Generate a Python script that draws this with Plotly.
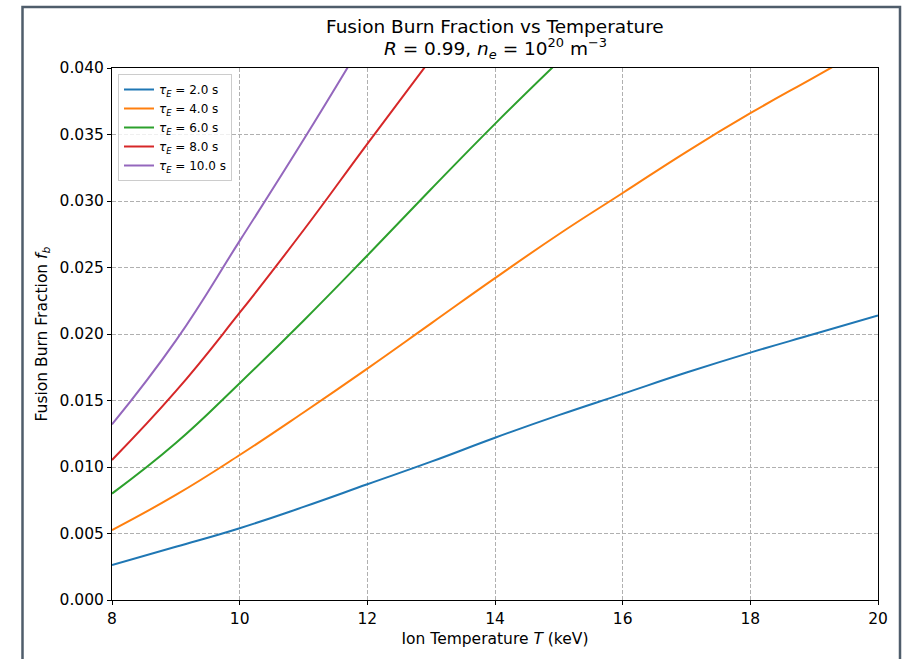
import plotly.graph_objects as go

temperature_keV = [8, 9, 10, 11, 12, 13, 14, 15, 16, 17, 18, 19, 20]
tau_labels = ["2.0", "4.0", "6.0", "8.0", "10.0"]
fb_tau2 = [0.00263, 0.0040, 0.0054, 0.0070, 0.0087, 0.0104, 0.0122, 0.0139, 0.0155, 0.0171, 0.0186, 0.0200, 0.0214]
fb_tau4 = [0.00526, 0.0079, 0.0109, 0.0141, 0.0174, 0.0208, 0.0242, 0.0275, 0.0306, 0.0337, 0.0366, 0.0393, 0.0420]
fb_tau6 = [0.0080, 0.0118, 0.0163, 0.0210, 0.0259, 0.0309, 0.0358, 0.0405]
fb_tau8 = [0.01053, 0.0157, 0.0216, 0.0278, 0.0343, 0.0407]
fb_tau10 = [0.0132, 0.0195, 0.0270, 0.0346, 0.0425]
series = [fb_tau2, fb_tau4, fb_tau6, fb_tau8, fb_tau10]
colors = ["#1f77b4", "#ff7f0e", "#2ca02c", "#d62728", "#9467bd"]
x_ticks = [8, 10, 12, 14, 16, 18, 20]
y_ticks = [0.000, 0.005, 0.010, 0.015, 0.020, 0.025, 0.030, 0.035, 0.040]

W, H = 908, 659
L, R, T, B = 112, 30, 68, 59

fig = go.Figure()
for lab, vals, c in zip(tau_labels, series, colors):
    fig.add_trace(go.Scatter(
        x=temperature_keV[:len(vals)], y=vals, mode="lines",
        line=dict(color=c, width=2, shape="spline", smoothing=1.3),
        name=f"<i>τ</i><sub><i>E</i></sub> = {lab} s",
    ))

pw = W - L - R
ph = H - T - B
def px2paper_x(px):
    return (px - L) / pw
def px2paper_y(py):
    return (H - B - py) / ph

fig.add_shape(type="rect", xref="paper", yref="paper",
              x0=px2paper_x(22.5), x1=px2paper_x(900), y0=px2paper_y(680), y1=px2paper_y(7),
              line=dict(color="#4f5d6b", width=2.5), fillcolor="rgba(0,0,0,0)", layer="below")

fig.add_annotation(text="Fusion Burn Fraction vs Temperature", xref="paper", yref="paper",
                   x=0.5, y=px2paper_y(27), xanchor="center", yanchor="middle", showarrow=False,
                   font=dict(size=18.5, color="black"))
fig.add_annotation(text="<i>R</i> = 0.99, <i>n</i><sub><i>e</i></sub> = 10<sup>20</sup> m<sup>−3</sup>",
                   xref="paper", yref="paper",
                   x=0.5, y=px2paper_y(49), xanchor="center", yanchor="middle", showarrow=False,
                   font=dict(size=18.5, color="black"))

axis_common = dict(
    showline=True, linecolor="black", linewidth=1, mirror=True,
    ticks="outside", ticklen=4, tickcolor="black", tickwidth=1,
    showgrid=True, gridcolor="#b0b0b0", griddash="4px,2px", gridwidth=1,
    zeroline=False, tickfont=dict(size=15.5, color="black"),
)
fig.update_xaxes(range=[8, 20], tickvals=x_ticks, ticktext=[str(v) for v in x_ticks],
                 title=dict(text="Ion Temperature <i>T</i> (keV)", font=dict(size=15.5, color="black"), standoff=6),
                 **axis_common)
fig.update_yaxes(range=[0, 0.040], tickvals=y_ticks, ticktext=[f"{v:.3f}" for v in y_ticks],
                 title=dict(text="Fusion Burn Fraction <i>f</i><sub><i>b</i></sub>", font=dict(size=15.5, color="black"), standoff=8),
                 **axis_common)

fig.update_layout(
    width=W, height=H,
    margin=dict(l=L, r=R, t=T, b=B),
    paper_bgcolor="white", plot_bgcolor="white",
    font=dict(family="DejaVu Sans", color="black"),
    legend=dict(
        x=px2paper_x(118), y=px2paper_y(74), xanchor="left", yanchor="top",
        bgcolor="rgba(255,255,255,0.8)", bordercolor="#cccccc", borderwidth=1,
        font=dict(size=12, color="black"), tracegroupgap=0, itemwidth=30,
    ),
    showlegend=True,
)

fig.write_html("out.html", config={"displayModeBar": False},
               post_script="document.body.style.margin='0';")
